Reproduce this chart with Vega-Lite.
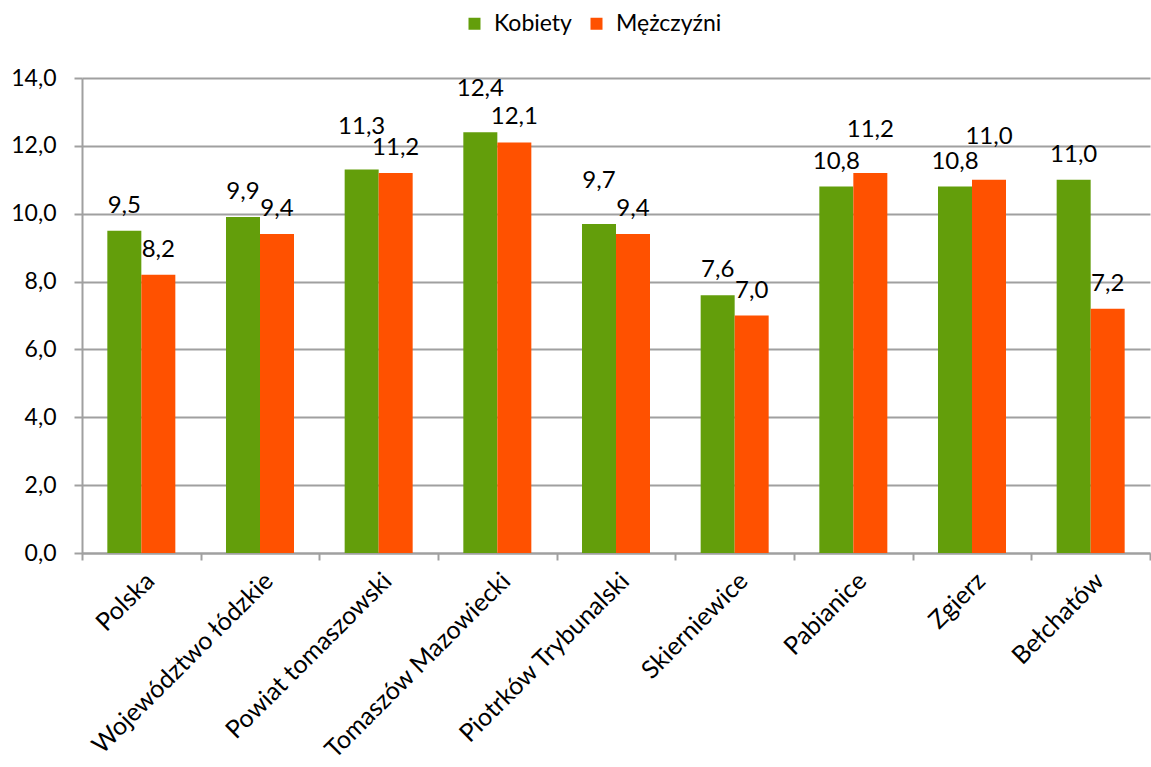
{
  "$schema": "https://vega.github.io/schema/vega-lite/v6.json",
  "width": 1068,
  "height": 475,
  "autosize": {"type": "none"},
  "padding": {"left": 82, "top": 78, "right": 1, "bottom": 214},
  "background": "white",
  "config": {
    "locale": {"number": {"decimal": ",", "thousands": " ", "grouping": [3], "currency": ["", " zł"]}},
    "font": "Lato",
    "view": {"stroke": null}
  },
  "data": {
    "values": [
      {"kategoria": "Polska", "plec": "Kobiety", "wartosc": 9.5},
      {"kategoria": "Polska", "plec": "Mężczyźni", "wartosc": 8.2},
      {"kategoria": "Województwo łódzkie", "plec": "Kobiety", "wartosc": 9.9},
      {"kategoria": "Województwo łódzkie", "plec": "Mężczyźni", "wartosc": 9.4},
      {"kategoria": "Powiat tomaszowski", "plec": "Kobiety", "wartosc": 11.3},
      {"kategoria": "Powiat tomaszowski", "plec": "Mężczyźni", "wartosc": 11.2},
      {"kategoria": "Tomaszów Mazowiecki", "plec": "Kobiety", "wartosc": 12.4},
      {"kategoria": "Tomaszów Mazowiecki", "plec": "Mężczyźni", "wartosc": 12.1},
      {"kategoria": "Piotrków Trybunalski", "plec": "Kobiety", "wartosc": 9.7},
      {"kategoria": "Piotrków Trybunalski", "plec": "Mężczyźni", "wartosc": 9.4},
      {"kategoria": "Skierniewice", "plec": "Kobiety", "wartosc": 7.6},
      {"kategoria": "Skierniewice", "plec": "Mężczyźni", "wartosc": 7.0},
      {"kategoria": "Pabianice", "plec": "Kobiety", "wartosc": 10.8},
      {"kategoria": "Pabianice", "plec": "Mężczyźni", "wartosc": 11.2},
      {"kategoria": "Zgierz", "plec": "Kobiety", "wartosc": 10.8},
      {"kategoria": "Zgierz", "plec": "Mężczyźni", "wartosc": 11.0},
      {"kategoria": "Bełchatów", "plec": "Kobiety", "wartosc": 11.0},
      {"kategoria": "Bełchatów", "plec": "Mężczyźni", "wartosc": 7.2}
    ]
  },
  "encoding": {
    "x": {
      "field": "kategoria",
      "type": "nominal",
      "sort": null,
      "scale": {"paddingInner": 0, "paddingOuter": 0},
      "axis": {
        "title": null,
        "labelAngle": -45,
        "labelFontSize": 25,
        "labelColor": "#000000",
        "labelPadding": 8,
        "tickBand": "extent",
        "tickSize": 7,
        "tickColor": "#A0A0A0",
        "tickWidth": 2,
        "domainColor": "#A0A0A0",
        "domainWidth": 2,
        "grid": false,
        "labelLimit": 400
      }
    },
    "xOffset": {
      "field": "plec",
      "type": "nominal",
      "scale": {"paddingInner": 0, "paddingOuter": 0.745}
    },
    "y": {
      "field": "wartosc",
      "type": "quantitative",
      "scale": {"domain": [0, 14], "nice": false},
      "axis": {
        "title": null,
        "values": [0, 2, 4, 6, 8, 10, 12, 14],
        "format": ".1f",
        "labelFontSize": 23,
        "labelColor": "#000000",
        "labelPadding": 18,
        "tickSize": 8,
        "tickColor": "#A0A0A0",
        "tickWidth": 2,
        "domainColor": "#A0A0A0",
        "domainWidth": 2,
        "gridColor": "#A0A0A0",
        "gridWidth": 2
      }
    }
  },
  "layer": [
    {
      "mark": {"type": "bar"},
      "encoding": {
        "color": {
          "field": "plec",
          "type": "nominal",
          "scale": {"domain": ["Kobiety", "Mężczyźni"], "range": ["#639E0B", "#FF5100"]},
          "legend": {
            "title": null,
            "orient": "none",
            "direction": "horizontal",
            "legendX": 381,
            "legendY": -66,
            "symbolType": "square",
            "symbolSize": 144,
            "symbolStrokeWidth": 0,
            "labelFontSize": 23,
            "labelColor": "#000000",
            "columnPadding": 13,
            "labelOffset": 8
          }
        }
      }
    },
    {
      "transform": [
        {"joinaggregate": [{"op": "max", "field": "wartosc", "as": "maxv"}, {"op": "min", "field": "wartosc", "as": "minv"}], "groupby": ["kategoria"]}
      ],
      "mark": {
        "type": "text",
        "baseline": "alphabetic",
        "dy": {"expr": "datum.wartosc == datum.maxv && datum.maxv - datum.minv < 0.45 ? -36 : -18"},
        "fontSize": 24,
        "color": "#000000"
      },
      "encoding": {
        "text": {"field": "wartosc", "type": "quantitative", "format": ".1f"}
      }
    }
  ]
}
